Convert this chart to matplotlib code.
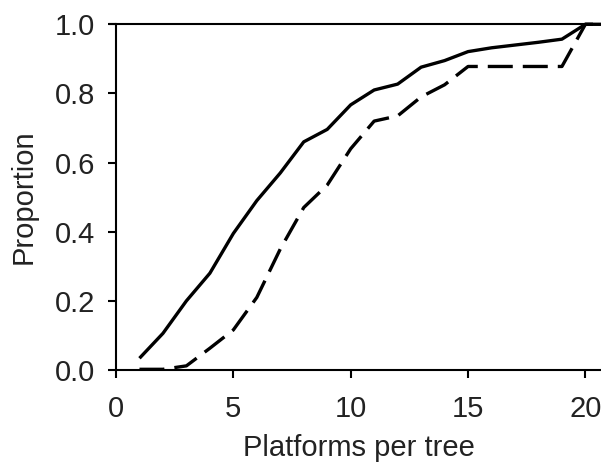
import matplotlib
matplotlib.use("Agg")
import matplotlib.pyplot as plt

platforms = list(range(1, 22))
solid = [0.034, 0.106, 0.20, 0.28, 0.395, 0.49, 0.57, 0.66, 0.696, 0.767,
         0.81, 0.827, 0.876, 0.895, 0.921, 0.932, 0.94, 0.948, 0.957, 1.0, 1.0]
dashed = [0.002, 0.002, 0.012, 0.063, 0.116, 0.21, 0.35, 0.47, 0.535, 0.64,
          0.72, 0.735, 0.79, 0.825, 0.878, 0.878, 0.878, 0.878, 0.878, 1.0, 1.0]
xticks = [0, 5, 10, 15, 20]
yticks = [0.0, 0.2, 0.4, 0.6, 0.8, 1.0]

plt.rcParams['font.family'] = ['Liberation Sans', 'DejaVu Sans']
fig = plt.figure(figsize=(6.01, 4.63), dpi=100)
ax = fig.add_axes([116/601, 93/463, 485/601, 345.7/463])

ax.plot(platforms, solid, color='black', lw=2.4, solid_capstyle='butt', clip_on=False)
ax.plot(platforms, dashed, color='black', lw=2.4, linestyle=(0, (7.5, 3)), clip_on=False)

ax.set_xlim(0, 485/23.47)
ax.set_ylim(0, 1.0)
ax.set_xticks(xticks)
ax.set_yticks(yticks)
ax.set_yticklabels([f"{v:.1f}" for v in yticks])
ax.axhline(1.0, color='black', lw=1.5, xmin=-6/485, clip_on=False)

for s in ['top', 'right']:
    ax.spines[s].set_visible(False)
for s in ['left', 'bottom']:
    ax.spines[s].set_linewidth(1.5)

ax.tick_params(axis='both', direction='out', length=6, width=1.5,
               labelsize=21, colors='black', labelcolor='#222222')
ax.tick_params(axis='x', pad=12)
ax.tick_params(axis='y', pad=9)
ax.set_xlabel('Platforms per tree', fontsize=21, labelpad=8, color='#222222')
ax.set_ylabel('Proportion', fontsize=21, labelpad=12, color='#222222')

fig.savefig('out.png', dpi=100)
